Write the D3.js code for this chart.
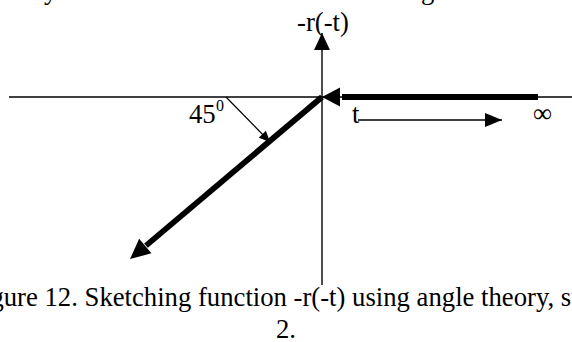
<!DOCTYPE html>
<html>
<head>
<meta charset="utf-8">
<script src="https://cdn.jsdelivr.net/npm/d3@7"></script>
<style>
  body { margin: 0; background: #fff; }
  svg { display: block; }
  text { font-family: "Liberation Serif", "Times New Roman", serif; fill: #000; }
</style>
</head>
<body>
<svg id="fig" width="572" height="342"></svg>
<script>
// Diagram values, in "t" units (origin = 0,0, one unit = 20px)
const horizAxis = [[-15.65, 0], [12.6, 0]];
const vertAxis = [[0, -9.4], [0, 3.2]];          // arrow at top
const stepLine = [[10.8, 0], [0, 0]];             // thick, arrow at origin
const rampLine = [[0, 0], [-9.6, -8.1]];          // thick, arrow at far end
const angleLeader = [[-4.8, 0], [-2.6, -2.25]];   // points to the ramp
const tArrow = [[1.8, -1.15], [9.0, -1.15]];
const labels = [
  {text: "-r(-t)", at: [0.05, 3.3], anchor: "middle"},
  {text: "t", at: [1.5, -1.3], anchor: "start"},
  {text: "\u221e", at: [10.55, -1.25], anchor: "start"},
  {text: "45", at: [-6.65, -1.3], anchor: "start"}
];
const captionLines = ["Figure 12. Sketching function -r(-t) using angle theory, step", "2."];

const fontSize = 26.7;
const svg = d3.select('#fig');
const x = d3.scaleLinear().domain([0, 1]).range([322, 342]);
const y = d3.scaleLinear().domain([0, 1]).range([97, 77]);
const line = d3.line().x(d => x(d[0])).y(d => y(d[1]));

// triangle head with tip at the segment end
function head(seg, len, half) {
  const [p0, p1] = seg.map(d => [x(d[0]), y(d[1])]);
  const a = Math.atan2(p1[1] - p0[1], p1[0] - p0[0]);
  const bx = p1[0] - len * Math.cos(a), by = p1[1] - len * Math.sin(a);
  const nx = -Math.sin(a) * half, ny = Math.cos(a) * half;
  return `M${p1[0]},${p1[1]}L${bx + nx},${by + ny}L${bx - nx},${by - ny}Z`;
}

// fragments of the paragraph above, cut by the crop
svg.append('text').attr('x', 44).attr('y', -1).attr('font-size', fontSize).text('y');
svg.append('text').attr('x', 421).attr('y', -1).attr('font-size', fontSize).text('g');

// axes
svg.append('path').attr('d', line(horizAxis)).attr('stroke', '#000').attr('stroke-width', 1.4).attr('fill', 'none');
svg.append('path').attr('d', line(vertAxis)).attr('stroke', '#000').attr('stroke-width', 1.4).attr('fill', 'none');
svg.append('path').attr('d', head(vertAxis, 17, 8)).attr('fill', '#000');

// thick function pieces
svg.append('path').attr('d', line([stepLine[0], [1, 0]])).attr('stroke', '#000').attr('stroke-width', 5.8).attr('fill', 'none');
svg.append('path').attr('d', head(stepLine, 18, 9.5)).attr('fill', '#000');
svg.append('path').attr('d', line([rampLine[0], [-8.8, -7.43]])).attr('stroke', '#000').attr('stroke-width', 5.8).attr('fill', 'none');
svg.append('path').attr('d', head(rampLine, 20, 9.5)).attr('fill', '#000');

// angle leader
svg.append('path').attr('d', line(angleLeader)).attr('stroke', '#000').attr('stroke-width', 1.2).attr('fill', 'none');
svg.append('path').attr('d', head(angleLeader, 11, 5)).attr('fill', '#000');

// t direction arrow
svg.append('path').attr('d', line(tArrow)).attr('stroke', '#000').attr('stroke-width', 1.3).attr('fill', 'none');
svg.append('path').attr('d', head(tArrow, 17, 7)).attr('fill', '#000');

// labels
svg.selectAll('text.lbl').data(labels).join('text')
  .attr('class', 'lbl')
  .attr('x', d => x(d.at[0]))
  .attr('y', d => y(d.at[1]))
  .attr('text-anchor', d => d.anchor)
  .attr('font-size', fontSize)
  .text(d => d.text);
svg.append('text').attr('x', x(-5.3)).attr('y', y(-0.7)).attr('font-size', 16).text('0');

// caption
svg.selectAll('text.cap').data(captionLines).join('text')
  .attr('class', 'cap')
  .attr('x', 286)
  .attr('y', (d, i) => 306 + i * 32)
  .attr('text-anchor', 'middle')
  .attr('font-size', fontSize)
  .text(d => d);
</script>
</body>
</html>
